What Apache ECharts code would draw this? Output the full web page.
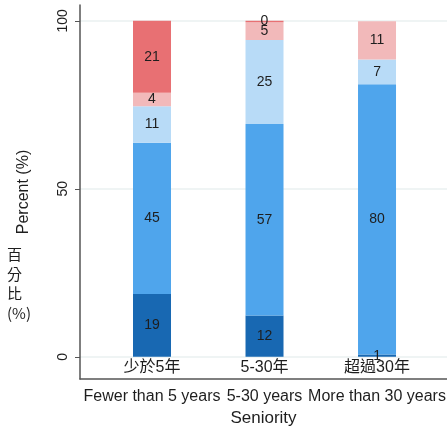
<!DOCTYPE html>
<html>
<head>
<meta charset="utf-8">
<script src="https://cdn.jsdelivr.net/npm/echarts@6/dist/echarts.min.js"></script>
<style>
  html, body { margin: 0; padding: 0; background: #fff; }
  #chart { width: 447px; height: 430px; }
</style>
</head>
<body>
<div id="chart"></div>
<script>
// categories (x positions 1..3)
const catPos = [1, 2, 3]
const enLabels = ['Fewer than 5 years', '5-30 years', 'More than 30 years']
const zhLabels = ['少於5年', '5-30年', '超過30年']
const yTicks = [0, 50, 100]

// segment values, bottom to top
const darkBlue = [18.7, 12.3, 0.7]
const midBlue = [45.0, 57.0, 80.4]
const lightBlue = [10.9, 25.0, 7.4]
const pink = [4.0, 5.3, 11.4]
const red = [21.4, 0.4, null]

const seriesDefs = [
  { name: 'dark', data: darkBlue, color: '#1868b2' },
  { name: 'mid', data: midBlue, color: '#4fa5ec' },
  { name: 'light', data: lightBlue, color: '#b8dbf7' },
  { name: 'pink', data: pink, color: '#f2b9ba' },
  { name: 'red', data: red, color: '#e87073' }
]

const font = 'Liberation Sans, Arial, Noto Sans CJK TC, sans-serif'
const textColor = '#1e1e1e'

const chartDom = document.getElementById('chart')
const myChart = echarts.init(chartDom)

// value first so that the stack runs along y
const series = seriesDefs.map(function (s, i) {
  const item = {
    name: s.name,
    type: 'bar',
    stack: 'total',
    barWidth: 38,
    xAxisIndex: 0,
    encode: { x: 1, y: 0 },
    itemStyle: { color: s.color },
    label: {
      show: true,
      position: 'inside',
      color: textColor,
      fontSize: 14,
      fontFamily: font,
      formatter: function (p) { return Math.round(p.value[0]) }
    },
    data: catPos.map(function (x, j) {
      if (s.data[j] == null) return { value: [0, x], label: { show: false } }
      return [s.data[j], x]
    })
  }
  if (i === 0) {
    item.markLine = {
      silent: true,
      symbol: 'none',
      label: { show: false },
      lineStyle: { color: '#eaf0f0', width: 1.5, type: 'solid' },
      z: 0,
      data: yTicks.map(function (v) { return { yAxis: v } })
    }
  }
  return item
})

const options = {
  backgroundColor: '#FFFFFF',
  animation: false,
  grid: { left: 80, right: 0, top: 5, bottom: 51, outerBoundsMode: 'none', containLabel: false },
  xAxis: [{
    type: 'value',
    min: 0.36,
    max: 3.622,
    name: 'Seniority',
    nameLocation: 'middle',
    nameGap: 31,
    nameTextStyle: { color: textColor, fontSize: 17, fontFamily: font },
    axisLine: { show: true, onZero: false, lineStyle: { color: '#555', width: 1.5 } },
    axisTick: { show: false },
    splitLine: { show: false },
    axisLabel: {
      customValues: catPos,
      margin: 10,
      color: textColor,
      fontSize: 16,
      fontFamily: font,
      formatter: function (v) { return enLabels[Math.round(v) - 1] }
    }
  }, {
    type: 'value',
    min: 0.36,
    max: 3.622,
    position: 'bottom',
    offset: -22,
    axisLine: { show: false },
    axisTick: { show: false },
    splitLine: { show: false },
    axisLabel: {
      customValues: catPos,
      margin: 3,
      color: textColor,
      fontSize: 16,
      fontFamily: font,
      formatter: function (v) { return zhLabels[Math.round(v) - 1] }
    }
  }],
  yAxis: {
    type: 'value',
    min: -6.6,
    max: 104.7,
    name: 'Percent (%)',
    nameLocation: 'middle',
    nameGap: 48,
    nameRotate: 90,
    nameTextStyle: { color: textColor, fontSize: 16, fontFamily: font },
    axisLine: { show: true, onZero: false, lineStyle: { color: '#555', width: 1.5 } },
    axisTick: { show: true, customValues: yTicks, length: 5, lineStyle: { color: '#555' } },
    splitLine: { show: false },
    axisLabel: {
      customValues: yTicks,
      rotate: 90,
      margin: 10,
      color: textColor,
      fontSize: 14,
      fontFamily: font
    }
  },
  graphic: [{
    type: 'text',
    left: 7,
    top: 245,
    style: {
      text: '百\n分\n比\n(%)',
      align: 'center',
      fill: textColor,
      fontSize: 15,
      lineHeight: 19.5,
      fontFamily: 'Noto Sans CJK TC, Liberation Sans, sans-serif'
    }
  }],
  series: series
}

myChart.setOption(options)
</script>
</body>
</html>
